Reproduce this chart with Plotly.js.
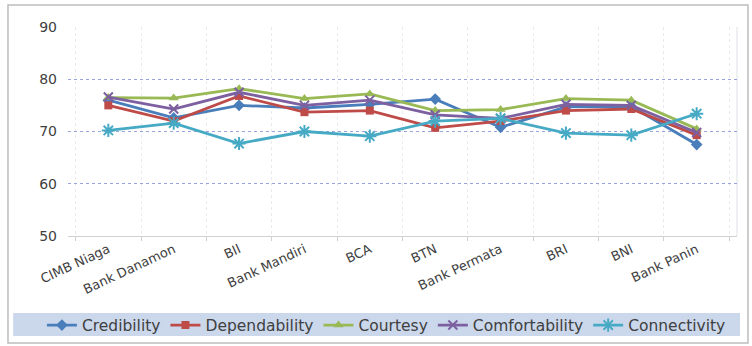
<!DOCTYPE html>
<html>
<head>
<meta charset="utf-8">
<script src="https://cdn.plot.ly/plotly-3.0.1.min.js"></script>
<style>html,body{margin:0;padding:0;background:#fff;}#chart{width:752px;height:346px;}</style>
</head>
<body>
<div id="chart"></div>
<script>
const banks = ["CIMB Niaga","Bank Danamon","BII","Bank Mandiri","BCA","BTN","Bank Permata","BRI","BNI","Bank Panin"];
const credibility    = [76.0, 72.6, 75.0, 74.5, 75.2, 76.2, 70.8, 74.7, 74.8, 67.5];
const dependability  = [75.0, 72.0, 76.8, 73.7, 74.0, 70.7, 72.0, 74.0, 74.3, 69.3];
const courtesy       = [76.5, 76.4, 78.2, 76.3, 77.2, 74.0, 74.2, 76.3, 76.0, 70.5];
const comfortability = [76.6, 74.3, 77.5, 75.0, 76.0, 73.2, 72.5, 75.2, 75.0, 69.8];
const connectivity   = [70.2, 71.6, 67.7, 70.0, 69.1, 72.0, 72.5, 69.7, 69.3, 73.4];
const seriesNames = ["Credibility","Dependability","Courtesy","Comfortability","Connectivity"];
const yTicks = [50, 60, 70, 80, 90];

const seriesData = [credibility, dependability, courtesy, comfortability, connectivity];
const colors = ["#4a7ebb","#be4b48","#98b954","#7d60a0","#46aac5"];
const symbols = ["diamond","square","triangle-up","x-thin-open","asterisk-open"];
const sizes = [9, 8, 9, 9, 11];

const traces = seriesData.map((vals, i) => ({
  type: "scatter",
  mode: "lines+markers",
  name: seriesNames[i],
  x: banks,
  y: vals,
  line: {color: colors[i], width: 2.8},
  marker: {symbol: symbols[i], size: sizes[i], color: colors[i],
           line: {color: colors[i], width: (i >= 3 ? 2 : 0)}}
}));

const fam = "'DejaVu Sans', 'Open Sans', sans-serif";

const layout = {
  width: 752, height: 346,
  margin: {l: 68, r: 15, t: 27, b: 110, autoexpand: false},
  paper_bgcolor: "#ffffff",
  plot_bgcolor: "#ffffff",
  font: {family: fam, color: "#404040"},
  showlegend: true,
  legend: {
    orientation: "h",
    x: -0.039, xanchor: "left",
    y: -0.428, yanchor: "middle",
    bgcolor: "rgba(0,0,0,0)",
    font: {family: fam, size: 15.5, color: "#404040"},
    itemwidth: 30,
    tracegroupgap: 0
  },
  xaxis: {
    type: "category",
    tickangle: -25,
    tickfont: {family: fam, size: 13, color: "#404040"},
    showgrid: true,
    gridcolor: "#e8eaf0",
    griddash: "dot",
    gridwidth: 1,
    showline: true,
    linecolor: "#d0d0d0",
    ticks: "outside",
    tickson: "boundaries",
    ticklen: 4,
    tickcolor: "#d0d0d0",
    zeroline: false,
    automargin: false,
    fixedrange: true
  },
  yaxis: {
    range: [50, 90],
    tickvals: yTicks,
    ticktext: yTicks.map(String),
    tickfont: {family: fam, size: 14, color: "#404040"},
    ticklabelstandoff: 10,
    showgrid: true,
    gridcolor: "#9aa4dc",
    griddash: "dot",
    gridwidth: 1,
    showline: false,
    zeroline: false,
    ticks: "",
    automargin: false,
    fixedrange: true
  },
  shapes: [
    {type: "rect", xref: "paper", yref: "paper", x0: -0.082, x1: 1.0045, y0: -0.478, y1: -0.368,
     fillcolor: "#cbd8ec", line: {width: 0}, layer: "below"},
    {type: "rect", xref: "paper", yref: "paper", x0: -0.0897, x1: 1.0164, y0: -0.512, y1: 1.105,
     fillcolor: "rgba(0,0,0,0)", line: {color: "#bdbdbd", width: 1.5}, layer: "below"},
    {type: "line", xref: "paper", yref: "paper", x0: 1, x1: 1, y0: 0, y1: 1,
     line: {color: "#dde0e6", width: 1}, layer: "below"}
  ]
};

Plotly.newPlot("chart", traces, layout, {displayModeBar: false, staticPlot: true});
</script>
</body>
</html>
